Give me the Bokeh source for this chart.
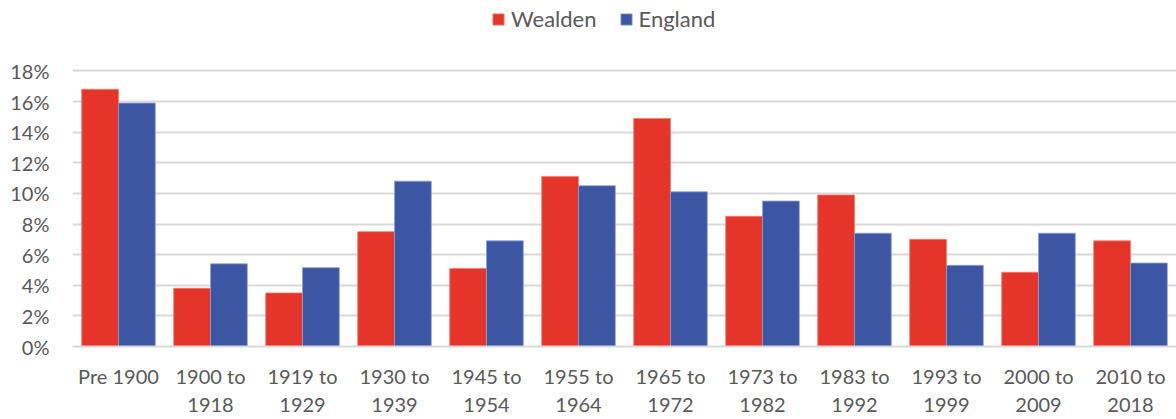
from bokeh.plotting import figure
from bokeh.models import (ColumnDataSource, FactorRange, FixedTicker, CustomJSTickFormatter,
                          Legend, LegendItem)
from bokeh.transform import dodge
from bokeh.embed import file_html
from bokeh.resources import INLINE

categories = ["Pre 1900", "1900 to\n1918", "1919 to\n1929", "1930 to\n1939", "1945 to\n1954",
              "1955 to\n1964", "1965 to\n1972", "1973 to\n1982", "1983 to\n1992",
              "1993 to\n1999", "2000 to\n2009", "2010 to\n2018"]
wealden = [16.8, 3.8, 3.5, 7.5, 5.1, 11.1, 14.9, 8.5, 9.9, 7.0, 4.85, 6.9]
england = [15.9, 5.4, 5.15, 10.8, 6.9, 10.5, 10.1, 9.5, 7.4, 5.3, 7.4, 5.45]
y_ticks = [0, 2, 4, 6, 8, 10, 12, 14, 16, 18]

RED = "#E5352A"
BLUE = "#3C56A3"
TXT = "#595959"
GRID = "#D9D9D9"
FONT = "Lato"

source = ColumnDataSource(dict(cat=categories, wealden=wealden, england=england))

# the frame extends above 18% to leave room for the legend at the top
p = figure(x_range=FactorRange(*categories, range_padding=0), y_range=(0, 22.6),
           width=1176, height=419, output_backend="svg",
           toolbar_location=None, min_border_left=72, min_border_right=0,
           min_border_top=0, min_border_bottom=64, outline_line_color=None)

rw = p.vbar(x=dodge("cat", -0.2, range=p.x_range), top="wealden", width=0.4, source=source,
            fill_color=RED, line_color="#F08070", line_width=0.8)
re = p.vbar(x=dodge("cat", 0.2, range=p.x_range), top="england", width=0.4, source=source,
            fill_color=BLUE, line_color="#8FA0D0", line_width=0.8)

p.yaxis.ticker = FixedTicker(ticks=y_ticks)
p.yaxis.formatter = CustomJSTickFormatter(code="return tick + '%';")
p.yaxis.axis_line_color = None
p.yaxis.major_tick_line_color = None
p.yaxis.minor_tick_line_color = None
p.yaxis.major_label_text_font = FONT
p.yaxis.major_label_text_font_size = "20px"
p.yaxis.major_label_text_color = TXT
p.yaxis.major_label_standoff = 17

p.xaxis.axis_line_color = GRID
p.xaxis.axis_line_width = 2
p.xaxis.major_tick_line_color = None
p.xaxis.minor_tick_line_color = None
p.xaxis.major_label_text_font = FONT
p.xaxis.major_label_text_font_size = "20px"
p.xaxis.major_label_text_color = TXT
p.xaxis.major_label_standoff = 11

p.xgrid.grid_line_color = None
p.ygrid.grid_line_color = GRID
p.ygrid.grid_line_width = 2

legend = Legend(items=[LegendItem(label="Wealden", renderers=[rw]),
                       LegendItem(label="England", renderers=[re])],
                orientation="horizontal", location=(419, 314),
                label_text_font=FONT, label_text_font_size="22px", label_text_color=TXT,
                glyph_width=14, glyph_height=14, label_standoff=6, spacing=22,
                border_line_color=None, background_fill_alpha=0,
                margin=0, padding=0)
p.add_layout(legend, "center")

open("out.html", "w").write(file_html(p, INLINE))
